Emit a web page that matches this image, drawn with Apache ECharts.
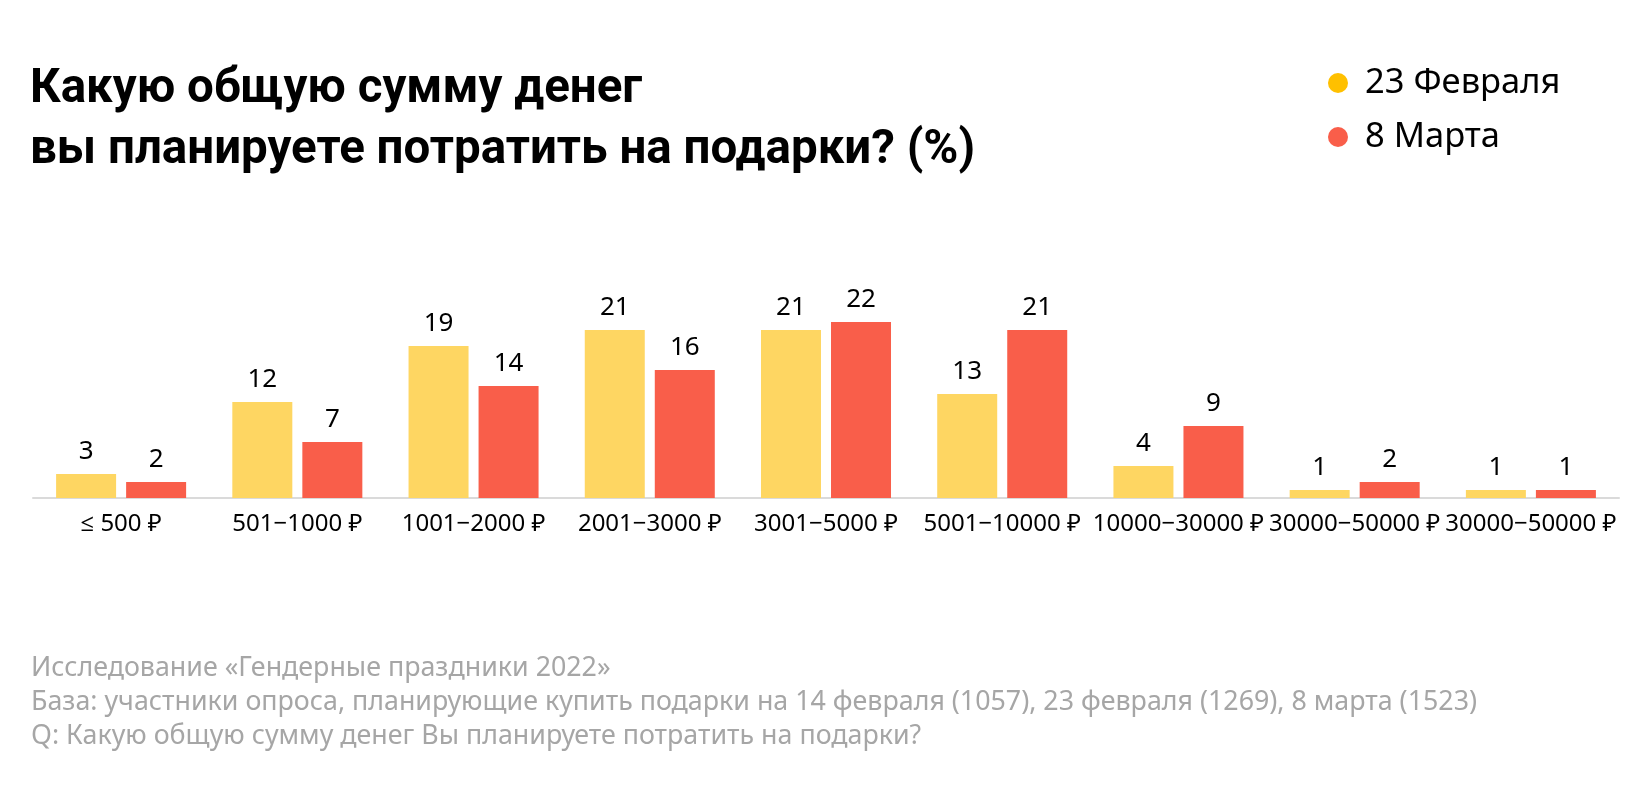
<!DOCTYPE html>
<html>
<head>
<meta charset="utf-8">
<script src="https://cdn.jsdelivr.net/npm/echarts@6/dist/echarts.min.js"></script>
<style>
html,body{margin:0;padding:0;background:#fff;}
#chart{width:1640px;height:792px;}
</style>
</head>
<body>
<div id="chart"></div>
<script>
const titleLines = ['Какую общую сумму денег', 'вы планируете потратить на подарки? (%)'];
const categories = ['≤ 500 ₽', '501−1000 ₽', '1001−2000 ₽', '2001−3000 ₽', '3001−5000 ₽', '5001−10000 ₽', '10000−30000 ₽', '30000−50000 ₽', '30000−50000 ₽'];
const seriesNames = ['23 Февраля', '8 Марта'];
const feb23 = [3, 12, 19, 21, 21, 13, 4, 1, 1];
const mar8 = [2, 7, 14, 16, 22, 21, 9, 2, 1];
const footnotes = [
  'Исследование «Гендерные праздники 2022»',
  'База: участники опроса, планирующие купить подарки на 14 февраля (1057), 23 февраля (1269), 8 марта (1523)',
  'Q: Какую общую сумму денег Вы планируете потратить на подарки?'
];

const chart = echarts.init(document.getElementById('chart'), null, {renderer: 'canvas'});
const baseFont = '"Noto Sans", "Open Sans", sans-serif';
const labelStyle = {show: true, position: 'top', distance: 9, fontSize: 26, color: '#000', fontFamily: baseFont};

chart.setOption({
  animation: false,
  backgroundColor: '#fff',
  title: {
    text: titleLines.join('\n'),
    left: 30, top: 60, padding: 0,
    textStyle: {fontFamily: 'Roboto, "Noto Sans", sans-serif', fontWeight: 'bold', fontSize: 47.5, lineHeight: 61, color: '#000'}
  },
  legend: {
    orient: 'vertical', left: 1328, top: 65, padding: 0,
    icon: 'circle', itemWidth: 20, itemHeight: 20, itemGap: 18,
    selectedMode: false,
    textStyle: {fontFamily: baseFont, fontSize: 34.5, lineHeight: 36, color: '#000', padding: [0, 0, 0, 12]},
    data: [
      {name: seriesNames[0], itemStyle: {color: '#FFC000'}},
      {name: seriesNames[1], itemStyle: {color: '#F95E4A'}}
    ]
  },
  grid: {left: 33, right: 21, top: 298, bottom: 294, containLabel: false},
  xAxis: {
    type: 'category', data: categories,
    axisLine: {show: true, lineStyle: {color: '#DADADA', width: 2}},
    axisTick: {show: false},
    axisLabel: {fontFamily: baseFont, fontSize: 24, color: '#000', margin: 14, interval: 0}
  },
  yAxis: {type: 'value', min: 0, max: 25, show: false, splitLine: {show: false}},
  series: [
    {name: seriesNames[0], type: 'bar', data: feb23, barWidth: 60, barGap: '16.7%', itemStyle: {color: '#FED662'}, label: labelStyle},
    {name: seriesNames[1], type: 'bar', data: mar8, barWidth: 60, barGap: '16.7%', itemStyle: {color: '#F95E4A'}, label: labelStyle}
  ],
  graphic: footnotes.map((t, i) => ({
    type: 'text', left: 31, top: 655 + i * 34,
    style: {text: t, font: '26.8px "Noto Sans", sans-serif', fill: '#A6A6A6'}
  }))
});
</script>
</body>
</html>
